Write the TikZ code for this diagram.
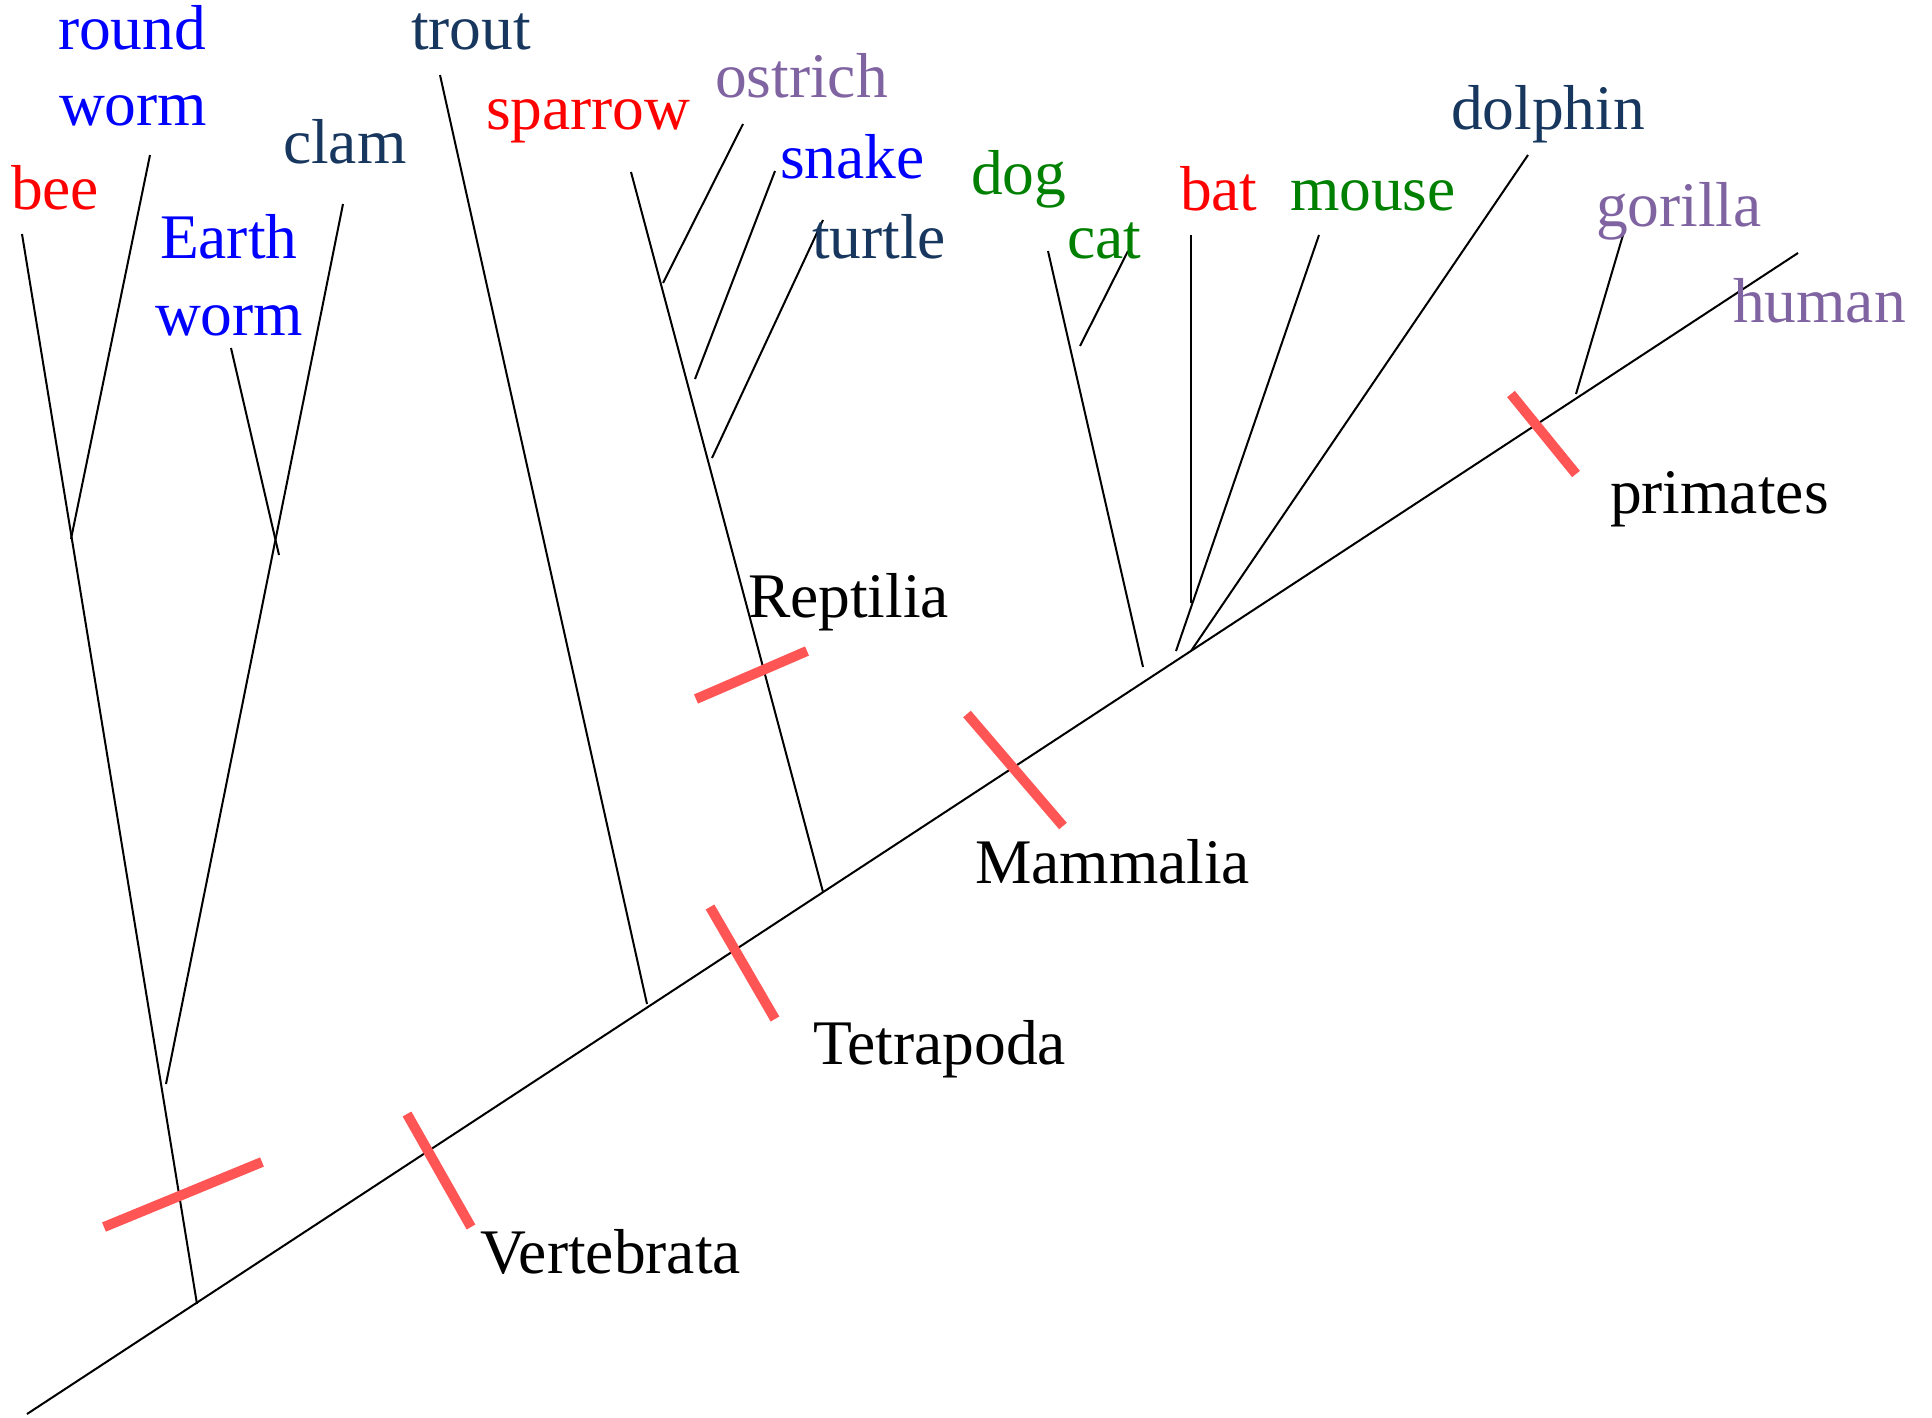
\documentclass[tikz,border=0pt]{standalone}
\usepackage{fontspec}
\setmainfont{Liberation Serif}
\definecolor{navy}{HTML}{17375E}
\definecolor{lilac}{HTML}{8064A2}
\definecolor{leaf}{HTML}{008000}
\definecolor{barred}{HTML}{FF5555}
\tikzset{
  branch/.style={line width=2pt, black},
  synapo/.style={line width=10pt, barred},
  taxon/.style={anchor=base west, inner sep=0pt, outer sep=0pt,
                font=\fontsize{63.5}{70}\selectfont},
}
\begin{document}
\begin{tikzpicture}[x=1pt, y=-1pt]
  \useasboundingbox (0,0) rectangle (1932,1418);

  % main stem of the tree
  \coordinate (root)   at (27,1414);
  \coordinate (apex)   at (1798,253);

  % branch points and tips
  \coordinate (beeB)   at (197,1304);  \coordinate (beeT)   at (22,234);
  \coordinate (rwB)    at (71,539);    \coordinate (rwT)    at (150,155);
  \coordinate (clamB)  at (166,1084);  \coordinate (clamT)  at (343,204);
  \coordinate (ewB)    at (279,555);   \coordinate (ewT)    at (231,348);
  \coordinate (troutB) at (647,1004);  \coordinate (troutT) at (440,75);
  \coordinate (sparB)  at (823,892);   \coordinate (sparT)  at (631,172);
  \coordinate (ostB)   at (663,283);   \coordinate (ostT)   at (743,124);
  \coordinate (snB)    at (695,379);   \coordinate (snT)    at (775,171);
  \coordinate (turB)   at (712,458);   \coordinate (turT)   at (823,220);
  \coordinate (dogB)   at (1143,667);  \coordinate (dogT)   at (1048,251);
  \coordinate (catB)   at (1080,346);  \coordinate (catT)   at (1128,251);
  \coordinate (batB)   at (1191,603);  \coordinate (batT)   at (1191,235);
  \coordinate (mouB)   at (1176,651);  \coordinate (mouT)   at (1319,235);
  \coordinate (dolB)   at (1191,651);  \coordinate (dolT)   at (1528,155);
  \coordinate (gorB)   at (1576,394);  \coordinate (gorT)   at (1623,235);

  \draw[branch] (root) -- (apex);
  \foreach \b/\t in {beeB/beeT, rwB/rwT, clamB/clamT, ewB/ewT, troutB/troutT,
                     sparB/sparT, ostB/ostT, snB/snT, turB/turT, dogB/dogT,
                     catB/catT, batB/batT, mouB/mouT, dolB/dolT, gorB/gorT}
    \draw[branch] (\b) -- (\t);

  % shared derived characters
  \coordinate (s1a) at (104,1227);  \coordinate (s1b) at (262,1162);
  \coordinate (s2a) at (407,1114);  \coordinate (s2b) at (471,1227);
  \coordinate (s3a) at (710,907);   \coordinate (s3b) at (775,1019);
  \coordinate (s4a) at (696,699);   \coordinate (s4b) at (807,651);
  \coordinate (s5a) at (967,714);   \coordinate (s5b) at (1063,826);
  \coordinate (s6a) at (1511,394);  \coordinate (s6b) at (1576,474);
  \foreach \a/\b in {s1a/s1b, s2a/s2b, s3a/s3b, s4a/s4b, s5a/s5b, s6a/s6b}
    \draw[synapo] (\a) -- (\b);

  % species
  \node[taxon, red]   (bee)     at (11,209)   {bee};
  \node[taxon, blue]  (round)   at (58,50)    {round};
  \node[taxon, blue]  (rworm)   at (59,126)   {worm};
  \node[taxon, blue]  (earth)   at (160,258)  {Earth};
  \node[taxon, blue]  (eworm)   at (155,335)  {worm};
  \node[taxon, navy]  (clam)    at (283,163)  {clam};
  \node[taxon, navy]  (trout)   at (411,50)   {trout};
  \node[taxon, red]   (sparrow) at (486,130)  {sparrow};
  \node[taxon, lilac] (ostrich) at (715,98)   {ostrich};
  \node[taxon, blue]  (snake)   at (780,178)  {snake};
  \node[taxon, navy]  (turtle)  at (812,258)  {turtle};
  \node[taxon, leaf]  (dog)     at (971,194)  {dog};
  \node[taxon, leaf]  (cat)     at (1067,258) {cat};
  \node[taxon, red]   (bat)     at (1180,210) {bat};
  \node[taxon, leaf]  (mouse)   at (1290,210) {mouse};
  \node[taxon, navy]  (dolphin) at (1451,130) {dolphin};
  \node[taxon, lilac] (gorilla) at (1596,226) {gorilla};
  \node[taxon, lilac] (human)   at (1733,322) {human};

  % clades
  \node[taxon] (primates)   at (1610,513)  {primates};
  \node[taxon] (reptilia)   at (748,617)   {Reptilia};
  \node[taxon] (mammalia)   at (975,883)   {Mammalia};
  \node[taxon] (tetrapoda)  at (813,1064)  {Tetrapoda};
  \node[taxon] (vertebrata) at (480,1273)  {Vertebrata};
\end{tikzpicture}
\end{document}
